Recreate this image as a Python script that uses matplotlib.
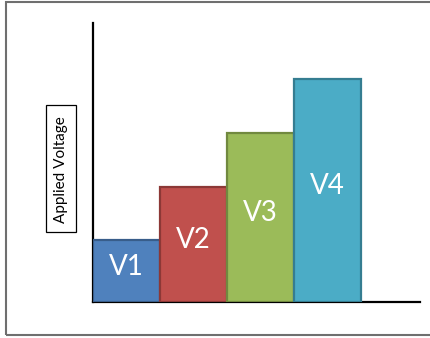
import matplotlib
import matplotlib.pyplot as plt
import matplotlib.patches as mpatches
import numpy as np

matplotlib.use('Agg')

# Bars (schematic voltage levels)
labels = ["V1", "V2", "V3", "V4"]
voltages = [1.15, 2.15, 3.15, 4.15]

# Office-style colours
face_colors = ["#4F81BD", "#C0504D", "#9BBB59", "#4BACC6"]
edge_colors = ["#385D8A", "#8C3836", "#71893F", "#357D91"]

W, H = 430, 338
fig = plt.figure(figsize=(W / 100, H / 100), dpi=100)


def px(x, y):
    return x / W, 1 - y / H


# axes box in pixels: x 93..420, y 23..302
ax = fig.add_axes([93 / W, 1 - 302 / H, (420 - 93) / W, (302 - 23) / H])

x = np.arange(len(labels))
ax.bar(x, voltages, width=1.0, color=face_colors, edgecolor=edge_colors,
       linewidth=1.6, zorder=3)

for i, (lab, v) in enumerate(zip(labels, voltages)):
    ax.text(i, v / 2 + 0.08, lab, ha="center", va="center", color="white",
            fontsize=20, family="Lato", zorder=4)

ax.set_xlim(-0.5, 4.38)
ax.set_ylim(0, 5.2)
ax.set_xticks([])
ax.set_yticks([])
for side in ["top", "right"]:
    ax.spines[side].set_visible(False)
for side in ["left", "bottom"]:
    ax.spines[side].set_linewidth(1.6)
    ax.spines[side].set_color("black")
    ax.spines[side].set_zorder(2)

# y label in its own box
x0, y0 = px(46, 232)
x1, y1 = px(76, 105)
fig.patches.append(mpatches.Rectangle((x0, y0), x1 - x0, y1 - y0,
                                      transform=fig.transFigure, fill=False,
                                      edgecolor="black", linewidth=0.9))
tx, ty = px(61.5, 169.5)
fig.text(tx, ty, "Applied Voltage", rotation=90, ha="center", va="center",
         fontsize=11, family="Lato")

# outer frame (right side runs off the image)
fx0, fy0 = px(6, 335)
fx1, fy1 = px(440, 2)
fig.patches.append(mpatches.Rectangle((fx0, fy0), fx1 - fx0, fy1 - fy0,
                                      transform=fig.transFigure, fill=False,
                                      edgecolor="#6f6f6f", linewidth=1.5))

plt.savefig("out.png", dpi=100)
plt.close()
